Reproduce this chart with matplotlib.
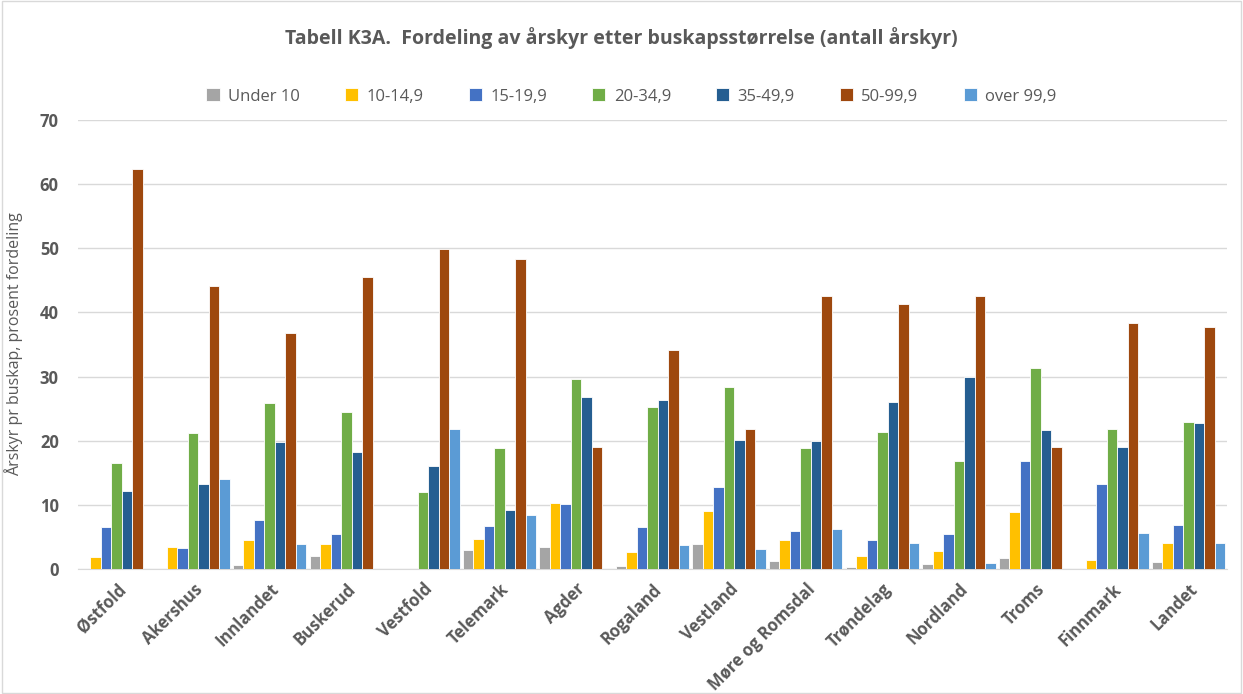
import numpy as np
import matplotlib
matplotlib.use("Agg")
import matplotlib.pyplot as plt
from matplotlib.patches import Rectangle

plt.rcParams['font.family'] = ['Open Sans', 'DejaVu Sans']

regions = ['Østfold', 'Akershus', 'Innlandet', 'Buskerud', 'Vestfold', 'Telemark', 'Agder',
           'Rogaland', 'Vestland', 'Møre og Romsdal', 'Trøndelag', 'Nordland', 'Troms',
           'Finnmark', 'Landet']
series_names = ['Under 10', '10-14,9', '15-19,9', '20-34,9', '35-49,9', '50-99,9', 'over 99,9']
colors = ['#A5A5A5', '#FFC000', '#4472C4', '#70AD47', '#255E91', '#9E480E', '#5B9BD5']

under10 = [0.2, 0.0, 0.7, 2.0, 0.0, 3.0, 3.5, 0.5, 3.9, 1.2, 0.3, 0.8, 1.8, 0.0, 1.1]
s10_14 = [1.9, 3.5, 4.6, 3.9, 0.0, 4.7, 10.3, 2.7, 9.0, 4.6, 2.0, 2.8, 8.9, 1.4, 4.1]
s15_19 = [6.5, 3.3, 7.6, 5.5, 0.0, 6.7, 10.1, 6.6, 12.8, 5.9, 4.5, 5.5, 16.9, 13.2, 6.9]
s20_34 = [16.5, 21.2, 25.9, 24.5, 12.0, 18.9, 29.7, 25.2, 28.4, 18.9, 21.3, 16.9, 31.3, 21.9, 23.0]
s35_49 = [12.1, 13.3, 19.8, 18.2, 16.0, 9.2, 26.9, 26.4, 20.2, 19.9, 26.1, 30.0, 21.7, 19.1, 22.7]
s50_99 = [62.4, 44.2, 36.8, 45.5, 49.9, 48.3, 19.1, 34.2, 21.9, 42.5, 41.3, 42.6, 19.1, 38.3, 37.7]
over99 = [0.0, 14.0, 3.9, 0.0, 21.8, 8.4, 0.0, 3.8, 3.1, 6.2, 4.0, 1.0, 0.0, 5.7, 4.0]

data = [under10, s10_14, s15_19, s20_34, s35_49, s50_99, over99]

txt = '#595959'
fig = plt.figure(figsize=(12.43, 6.94), dpi=100)
ax = fig.add_axes([0.063, 0.180, 0.924, 0.647])

x = np.arange(len(regions))
n = len(data)
w = 0.96 / n
for i, vals in enumerate(data):
    ax.bar(x - 0.48 + w * (i + 0.5), vals, width=w, color=colors[i],
           edgecolor='white', linewidth=0.6, label=series_names[i], zorder=3)

ax.set_xlim(-0.5, len(regions) - 0.5)
ax.set_ylim(0, 70)
ax.set_yticks(range(0, 71, 10))
ax.yaxis.grid(True, color='#D9D9D9', linewidth=1, zorder=0)
for s in ['top', 'right', 'left']:
    ax.spines[s].set_visible(False)
ax.spines['bottom'].set_color('#D9D9D9')
ax.tick_params(axis='both', length=0, colors=txt)
ax.tick_params(axis='y', labelsize=12, pad=14)
for lab in ax.get_yticklabels():
    lab.set_fontweight('bold')
ax.set_xticks(x)
ax.set_xticklabels(regions, rotation=45, ha='right', rotation_mode='anchor',
                   fontsize=12, fontweight='bold', color=txt)
ax.tick_params(axis='x', pad=8)

ax.set_ylabel('Årskyr pr buskap, prosent fordeling', fontsize=11.5, color=txt, labelpad=12)

fig.text(0.5, 0.945, 'Tabell K3A.  Fordeling av årskyr etter buskapsstørrelse (antall årskyr)',
         ha='center', va='center', fontsize=14, fontweight='bold', color=txt)

leg = fig.legend(loc='center', bbox_to_anchor=(0.508, 0.861), ncol=7, frameon=False,
                 fontsize=12, handlelength=0.8, handleheight=0.8, handletextpad=0.5,
                 columnspacing=2.7)
for t in leg.get_texts():
    t.set_color(txt)

fig.patches.append(Rectangle((0.002, 0.002), 0.996, 0.996, transform=fig.transFigure,
                             fill=False, edgecolor='#D9D9D9', linewidth=1))

fig.savefig('out.png', dpi=100, facecolor='white')
